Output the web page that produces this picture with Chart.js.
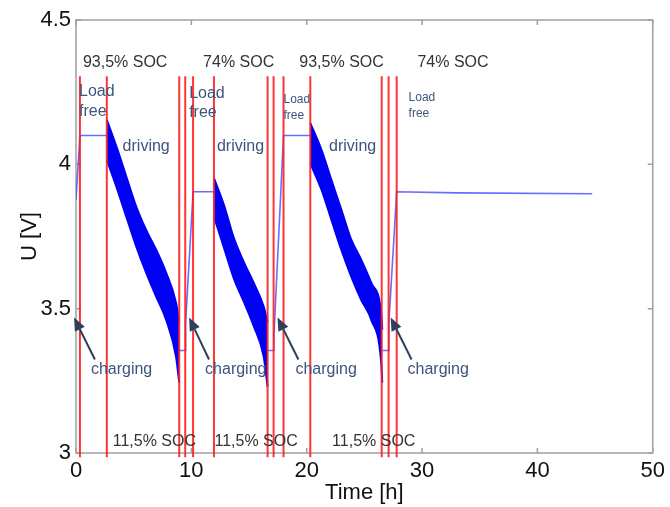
<!DOCTYPE html>
<html>
<head>
<meta charset="utf-8">
<script src="https://cdn.jsdelivr.net/npm/chart.js@4.4.1/dist/chart.umd.min.js"></script>
<style>
  html, body { margin: 0; padding: 0; background: #fff; }
  #wrap { width: 670px; height: 507px; }
</style>
</head>
<body>
<div id="wrap"><canvas id="grafico" width="670" height="507"></canvas></div>
<script>
// --- 1. DATA ---

// axis ticks
const xTicks = [0, 10, 20, 30, 40, 50];
const yTicks = [3, 3.5, 4, 4.5];

// thin voltage trace (rest / charging parts), null = break under the driving bands
const traceHours = [0, 0.34, 2.67, null, 8.95, 9.47, 9.50, 10.15, 11.96, null, 16.61, 17.13, 17.15, 17.99, 20.31, null, 26.55, 27.10, 27.12, 27.80, 33.0, 44.75];
const traceVolts = [3.877, 4.10, 4.10, null, 3.355, 3.355, 3.45, 3.905, 3.905, null, 3.355, 3.355, 3.40, 4.10, 4.10, null, 3.355, 3.355, 3.45, 3.905, 3.901, 3.898];

// driving phases: envelope of the oscillating voltage
const drive1Hours = [2.67, 3.50, 4.36, 5.22, 6.08, 6.95, 7.81, 8.67, 8.95];
const drive1Upper = [4.154, 4.062, 3.958, 3.854, 3.773, 3.704, 3.625, 3.521, 3.452];
const drive1Lower = [4.016, 3.923, 3.819, 3.716, 3.625, 3.542, 3.462, 3.334, 3.244];

const drive2Hours = [11.96, 12.82, 13.68, 14.54, 15.40, 16.27, 16.61];
const drive2Upper = [3.952, 3.860, 3.745, 3.662, 3.590, 3.507, 3.452];
const drive2Lower = [3.819, 3.712, 3.605, 3.525, 3.440, 3.334, 3.230];

const drive3Hours = [20.31, 21.28, 22.14, 23.00, 23.86, 24.72, 25.59, 26.45, 26.55];
const drive3Upper = [4.143, 4.050, 3.946, 3.843, 3.739, 3.670, 3.590, 3.486, 3.427];
const drive3Lower = [4.004, 3.912, 3.808, 3.704, 3.611, 3.531, 3.462, 3.317, 3.244];

// red phase markers
const markerHours = [0.34, 2.67, 8.95, 9.47, 10.15, 11.96, 16.61, 17.13, 17.99, 20.31, 26.5, 27.1, 27.8];
const markerTop = 4.305;
const markerBottom = 2.985;

// text annotations: [text, hour, volt]
const socLabels = [
    ['93,5% SOC', 0.60, 4.351], ['74% SOC', 11.02, 4.351],
    ['93,5% SOC', 19.36, 4.351], ['74% SOC', 29.60, 4.351],
    ['11,5% SOC', 3.18, 3.040], ['11,5% SOC', 12.0, 3.040], ['11,5% SOC', 22.20, 3.040]
];
const phaseLabels = [
    ['Load', 0.26, 4.251, 16], ['free', 0.26, 4.182, 16],
    ['Load', 9.81, 4.244, 16], ['free', 9.81, 4.178, 16],
    ['Load', 17.99, 4.223, 12], ['free', 17.99, 4.168, 12],
    ['Load', 28.83, 4.230, 12], ['free', 28.83, 4.175, 12],
    ['driving', 4.04, 4.061, 16], ['driving', 12.22, 4.061, 16], ['driving', 21.94, 4.061, 16],
    ['charging', 1.29, 3.289, 16], ['charging', 11.19, 3.289, 16],
    ['charging', 19.02, 3.289, 16], ['charging', 28.74, 3.289, 16]
];
// arrows: [tailHour, tailVolt, tipHour, tipVolt]
const arrows = [
    [1.64, 3.324, -0.17, 3.469],
    [11.53, 3.324, 9.81, 3.469],
    [19.28, 3.324, 17.47, 3.469],
    [29.09, 3.324, 27.28, 3.469]
];

// --- 2. HELPERS ---
const pontos = (xs, ys) => xs.map((x, i) => ({ x: x === null ? NaN : x, y: ys[i] }));
const FONTE = "'Liberation Sans', Arial, sans-serif";
Chart.defaults.font.family = FONTE;

const datasets = [];

// red markers on top
markerHours.forEach(h => {
    datasets.push({
        data: [{ x: h, y: markerBottom }, { x: h, y: markerTop }],
        borderColor: 'rgba(255, 30, 30, 0.9)',
        borderWidth: 2,
        pointRadius: 0,
        clip: false,
        order: 0
    });
});

datasets.push({
    data: pontos(traceHours, traceVolts),
    borderColor: 'rgba(70, 70, 255, 0.8)',
    borderWidth: 1.6,
    pointRadius: 0,
    spanGaps: false,
    order: 1
});

// each band = lower edge, then upper edge filled down to it
[[drive1Hours, drive1Upper, drive1Lower],
 [drive2Hours, drive2Upper, drive2Lower],
 [drive3Hours, drive3Upper, drive3Lower]].forEach(([hs, up, lo]) => {
    datasets.push({
        data: pontos(hs, lo),
        borderColor: 'rgb(0, 0, 245)',
        borderWidth: 2,
        pointRadius: 0,
        cubicInterpolationMode: 'monotone',
        fill: false,
        order: 2
    });
    datasets.push({
        data: pontos(hs, up),
        borderColor: 'rgb(0, 0, 245)',
        backgroundColor: 'rgb(0, 0, 245)',
        borderWidth: 2,
        pointRadius: 0,
        cubicInterpolationMode: 'monotone',
        fill: '-1',
        order: 2
    });
});

// --- 3. PLUGIN: axis box, inner ticks, annotations ---
const molduraPlugin = {
    id: 'moldura',
    beforeDatasetsDraw(chart) {
        const { ctx, chartArea: a, scales: { x, y } } = chart;
        ctx.save();
        ctx.strokeStyle = '#a0a0a0';
        ctx.lineWidth = 1.5;
        ctx.strokeRect(a.left, a.top, a.right - a.left, a.bottom - a.top);
        ctx.beginPath();
        xTicks.forEach(t => {
            const px = x.getPixelForValue(t);
            ctx.moveTo(px, a.bottom); ctx.lineTo(px, a.bottom - 5);
            ctx.moveTo(px, a.top); ctx.lineTo(px, a.top + 5);
        });
        yTicks.forEach(t => {
            const py = y.getPixelForValue(t);
            ctx.moveTo(a.left, py); ctx.lineTo(a.left + 5, py);
            ctx.moveTo(a.right, py); ctx.lineTo(a.right - 5, py);
        });
        ctx.stroke();
        ctx.restore();
    },
    afterDraw(chart) {
        const { ctx, scales: { x, y } } = chart;
        ctx.save();
        ctx.textBaseline = 'middle';
        ctx.textAlign = 'left';

        ctx.fillStyle = '#333';
        ctx.font = '16px ' + FONTE;
        socLabels.forEach(([t, h, v]) => ctx.fillText(t, x.getPixelForValue(h), y.getPixelForValue(v)));

        ctx.fillStyle = 'rgb(60, 85, 125)';
        phaseLabels.forEach(([t, h, v, s]) => {
            ctx.font = s + 'px ' + FONTE;
            ctx.fillText(t, x.getPixelForValue(h), y.getPixelForValue(v));
        });

        ctx.strokeStyle = 'rgb(45, 65, 95)';
        ctx.fillStyle = 'rgb(45, 65, 95)';
        ctx.lineWidth = 2;
        arrows.forEach(([h0, v0, h1, v1]) => {
            const x0 = x.getPixelForValue(h0), y0 = y.getPixelForValue(v0);
            const x1 = x.getPixelForValue(h1), y1 = y.getPixelForValue(v1);
            const ang = Math.atan2(y1 - y0, x1 - x0);
            const len = 13, half = 5.5;
            const bx = x1 - len * Math.cos(ang), by = y1 - len * Math.sin(ang);
            ctx.beginPath();
            ctx.moveTo(x0, y0); ctx.lineTo(bx, by);
            ctx.stroke();
            ctx.beginPath();
            ctx.moveTo(x1, y1);
            ctx.lineTo(bx + half * Math.sin(ang), by - half * Math.cos(ang));
            ctx.lineTo(bx - half * Math.sin(ang), by + half * Math.cos(ang));
            ctx.closePath();
            ctx.fill();
        });
        ctx.restore();
    }
};

// --- 4. CHART ---
new Chart(document.getElementById('grafico'), {
    type: 'line',
    data: { datasets },
    options: {
        responsive: false,
        animation: false,
        events: [],
        layout: { padding: { top: 20, right: 13, left: 0, bottom: 0 } },
        plugins: { legend: { display: false }, tooltip: { enabled: false } },
        scales: {
            x: {
                type: 'linear', min: 0, max: 50,
                afterBuildTicks: s => { s.ticks = xTicks.map(v => ({ value: v })); },
                ticks: { font: { size: 22 }, color: '#111', padding: 5, maxRotation: 0 },
                grid: { display: false, drawTicks: false },
                border: { display: false },
                title: { display: true, text: 'Time [h]', font: { size: 22 }, color: '#111', padding: { top: 0, bottom: 1 } },
                afterFit: s => { s.height = 54; }
            },
            y: {
                type: 'linear', min: 3, max: 4.5,
                afterBuildTicks: s => { s.ticks = yTicks.map(v => ({ value: v })); },
                ticks: { font: { size: 22 }, color: '#111', padding: 5, callback: v => String(v) },
                grid: { display: false, drawTicks: false },
                border: { display: false },
                title: { display: true, text: 'U [V]', font: { size: 22 }, color: '#111', padding: { top: 17, bottom: 0 } },
                afterFit: s => { s.width = 76; }
            }
        }
    },
    plugins: [molduraPlugin]
});
</script>
</body>
</html>
